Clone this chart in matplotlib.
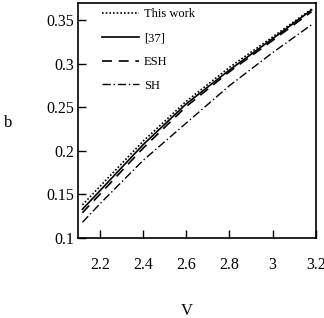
import matplotlib
matplotlib.use('Agg')
import matplotlib.pyplot as plt
import numpy as np

# data
V = np.array([2.12, 2.2, 2.4, 2.6, 2.8, 3.0, 3.18])
b_this = np.array([0.138, 0.159, 0.211, 0.257, 0.296, 0.331, 0.363])
b_37 = np.array([0.133, 0.154, 0.207, 0.254, 0.293, 0.329, 0.362])
b_esh = np.array([0.129, 0.150, 0.203, 0.251, 0.291, 0.327, 0.360])
b_sh = np.array([0.118, 0.139, 0.189, 0.232, 0.275, 0.313, 0.345])

xticks = [2.2, 2.4, 2.6, 2.8, 3.0, 3.2]
xticklabels = ['2.2', '2.4', '2.6', '2.8', '3', '3.2']
yticks = [0.1, 0.15, 0.2, 0.25, 0.3, 0.35]
yticklabels = ['0.1', '0.15', '0.2', '0.25', '0.3', '0.35']

plt.rcParams['font.family'] = ['Liberation Serif', 'DejaVu Serif']

fig = plt.figure(figsize=(3.24, 3.18), dpi=100)
ax = fig.add_axes([0.241, 0.2516, 0.734, 0.739])

ax.plot(V, b_this, color='black', linestyle=(0, (1, 1.2)), linewidth=1.2, label='This work')
ax.plot(V, b_37, color='black', linestyle='-', linewidth=1.2, label='[37]')
ax.plot(V, b_esh, color='black', linestyle=(0, (6, 4)), linewidth=1.2, label='ESH')
ax.plot(V, b_sh, color='black', linestyle=(0, (6, 2, 1, 2)), linewidth=1.0, label='SH')

ax.set_xlim(2.1, 3.2)
ax.set_ylim(0.1, 0.37)
ax.set_xticks(xticks)
ax.set_xticklabels(xticklabels)
ax.set_yticks(yticks)
ax.set_yticklabels(yticklabels)
ax.tick_params(axis='both', direction='in', length=6, width=1, labelsize=11.5)
ax.tick_params(axis='x', pad=14)
ax.tick_params(axis='y', pad=3)
for s in ax.spines.values():
    s.set_linewidth(1.2)

ax.legend(loc='upper left', bbox_to_anchor=(0.10, 0.978), frameon=False,
          fontsize=9, handlelength=3.0, handletextpad=0.35,
          labelspacing=0.95, borderpad=0, borderaxespad=0)

fig.text(8 / 324, 1 - 123 / 318, 'b', fontsize=12, ha='center', va='center')
fig.text(187 / 324, 1 - 311 / 318, 'V', fontsize=12, ha='center', va='center')

fig.savefig('out.png', dpi=100)
